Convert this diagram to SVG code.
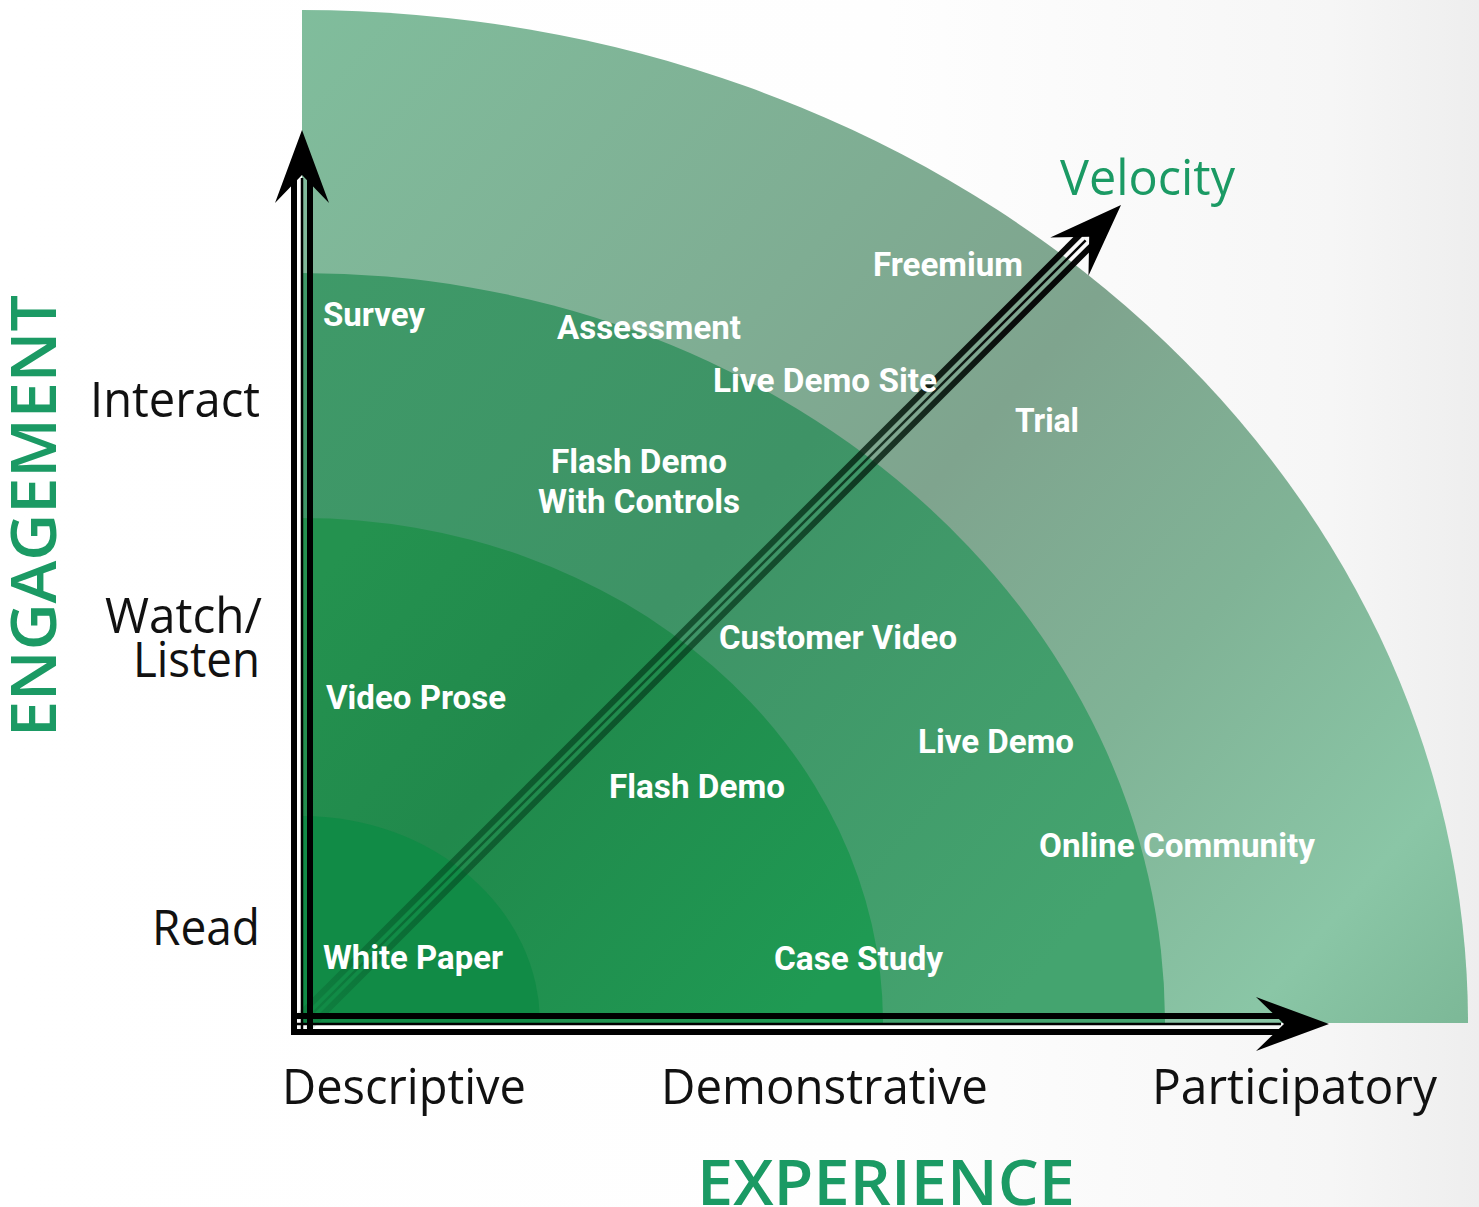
<svg xmlns="http://www.w3.org/2000/svg" width="1479" height="1207" viewBox="0 0 1479 1207">
  <style>
    .lbl { font-family: Roboto, "Liberation Sans", sans-serif; font-weight: 700; font-size: 33px; fill: #ffffff; }
    .axis { font-family: "Open Sans", "Noto Sans", sans-serif; font-weight: 400; font-size: 49px; fill: #111111; }
    .title { font-family: "Open Sans", "Noto Sans", sans-serif; font-weight: 600; font-size: 64px; fill: #1b9a64; }
    .vel { font-family: "Open Sans", "Noto Sans", sans-serif; font-weight: 400; font-size: 50px; fill: #1b9a64; }
    .ink { fill: #000000; }
  </style>
  <defs>
    <linearGradient id="bg" x1="0" y1="0" x2="1479" y2="0" gradientUnits="userSpaceOnUse">
      <stop offset="0" stop-color="#ffffff"/>
      <stop offset="0.6" stop-color="#fefefe"/>
      <stop offset="0.9" stop-color="#f6f6f6"/>
      <stop offset="1" stop-color="#eeeeee"/>
    </linearGradient>
    <linearGradient id="ring1" x1="302" y1="10" x2="1468" y2="1023" gradientUnits="userSpaceOnUse">
      <stop offset="0" stop-color="#80bd9c"/>
      <stop offset="0.35" stop-color="#7fad93"/>
      <stop offset="0.51" stop-color="#7fa48e"/>
      <stop offset="0.7" stop-color="#80b396"/>
      <stop offset="0.89" stop-color="#8ac6a6"/>
      <stop offset="1" stop-color="#7cb897"/>
    </linearGradient>
    <linearGradient id="ring2" x1="302" y1="10" x2="1468" y2="1023" gradientUnits="userSpaceOnUse">
      <stop offset="0" stop-color="#3f9c69"/>
      <stop offset="0.43" stop-color="#3e9366"/>
      <stop offset="0.77" stop-color="#44a46f"/>
      <stop offset="1" stop-color="#44a46f"/>
    </linearGradient>
    <linearGradient id="ring3" x1="302" y1="10" x2="1468" y2="1023" gradientUnits="userSpaceOnUse">
      <stop offset="0" stop-color="#24924f"/>
      <stop offset="0.25" stop-color="#24924f"/>
      <stop offset="0.42" stop-color="#21894c"/>
      <stop offset="0.67" stop-color="#1f9a53"/>
      <stop offset="1" stop-color="#1f9a53"/>
    </linearGradient>
    <!-- diagonal shaft fades out toward the origin -->
    <linearGradient id="diagInk" x1="-1158" y1="0" x2="0" y2="0" gradientUnits="userSpaceOnUse">
      <stop offset="0" stop-color="#003d1a" stop-opacity="0.12"/>
      <stop offset="0.2" stop-color="#003d1a" stop-opacity="0.55"/>
      <stop offset="0.6" stop-color="#002a12" stop-opacity="0.7"/>
      <stop offset="0.85" stop-color="#000000" stop-opacity="0.92"/>
      <stop offset="1" stop-color="#000000" stop-opacity="1"/>
    </linearGradient>
    <!-- concave arrowhead, tip at origin pointing along +x -->
    <path id="head" d="M0 0 L-73 -27 L-45 0 L-73 27 Z"/>
  </defs>

  <rect x="0" y="0" width="1479" height="1207" fill="url(#bg)"/>

  <!-- engagement/experience bands as nested quarter ellipses -->
  <g id="bands">
    <path id="band-participatory" d="M302 1023 V10 A1166 1013 0 0 1 1468 1023 Z" fill="url(#ring1)"/>
    <path id="band-interact" d="M302 1023 V273 A863 750 0 0 1 1165 1023 Z" fill="url(#ring2)"/>
    <path id="band-watch" d="M302 1023 V518 A581 505 0 0 1 883 1023 Z" fill="url(#ring3)"/>
    <path id="band-read" d="M302 1023 V816 A238 207 0 0 1 540 1023 Z" fill="#118b46"/>
  </g>

  <g id="connectors">
    <!-- velocity diagonal -->
    <g id="velocity-arrow" transform="translate(1121 205) rotate(-45)">
      <g fill="url(#diagInk)">
        <rect x="-1158" y="-11" width="1108" height="6"/>
        <rect x="-1158" y="-1.25" width="1108" height="2.5"/>
        <rect x="-1158" y="5" width="1108" height="6"/>
      </g>
      <use href="#head" class="ink"/>
    </g>
    <!-- engagement axis -->
    <g id="engagement-axis" transform="translate(302 130) rotate(-90)" class="ink">
      <rect x="-905" y="-11" width="857" height="6"/>
      <rect x="-905" y="-1.25" width="857" height="2.5"/>
      <rect x="-905" y="5" width="857" height="6"/>
      <use href="#head"/>
    </g>
    <!-- experience axis -->
    <g id="experience-axis" transform="translate(1329 1024)" class="ink">
      <rect x="-1038" y="-11" width="990" height="6"/>
      <rect x="-1038" y="-1.25" width="990" height="2.5"/>
      <rect x="-1038" y="5" width="990" height="6"/>
      <use href="#head"/>
    </g>
  </g>

  <!-- content types -->
  <g id="n-freemium"><text class="lbl" x="873" y="276" textLength="150" lengthAdjust="spacingAndGlyphs">Freemium</text></g>
  <g id="n-survey"><text class="lbl" x="323" y="326" textLength="102" lengthAdjust="spacingAndGlyphs">Survey</text></g>
  <g id="n-assessment"><text class="lbl" x="557" y="339" textLength="184" lengthAdjust="spacingAndGlyphs">Assessment</text></g>
  <g id="n-live-demo-site"><text class="lbl" x="713" y="392" textLength="224" lengthAdjust="spacingAndGlyphs">Live Demo Site</text></g>
  <g id="n-trial"><text class="lbl" x="1015" y="432" textLength="64" lengthAdjust="spacingAndGlyphs">Trial</text></g>
  <g id="n-flash-demo-controls">
    <text class="lbl" x="551" y="473" textLength="176" lengthAdjust="spacingAndGlyphs">Flash Demo</text>
    <text class="lbl" x="538" y="513" textLength="202" lengthAdjust="spacingAndGlyphs">With Controls</text>
  </g>
  <g id="n-customer-video"><text class="lbl" x="719" y="649" textLength="238" lengthAdjust="spacingAndGlyphs">Customer Video</text></g>
  <g id="n-video-prose"><text class="lbl" x="326" y="709" textLength="180" lengthAdjust="spacingAndGlyphs">Video Prose</text></g>
  <g id="n-live-demo"><text class="lbl" x="918" y="753" textLength="156" lengthAdjust="spacingAndGlyphs">Live Demo</text></g>
  <g id="n-flash-demo"><text class="lbl" x="609" y="798" textLength="176" lengthAdjust="spacingAndGlyphs">Flash Demo</text></g>
  <g id="n-online-community"><text class="lbl" x="1039" y="857" textLength="276" lengthAdjust="spacingAndGlyphs">Online Community</text></g>
  <g id="n-white-paper"><text class="lbl" x="323" y="969" textLength="180" lengthAdjust="spacingAndGlyphs">White Paper</text></g>
  <g id="n-case-study"><text class="lbl" x="774" y="970" textLength="169" lengthAdjust="spacingAndGlyphs">Case Study</text></g>

  <!-- axis scales -->
  <g id="engagement-scale">
    <text class="axis" x="90" y="417" textLength="170" lengthAdjust="spacingAndGlyphs">Interact</text>
    <text class="axis" x="105" y="633" textLength="157" lengthAdjust="spacingAndGlyphs">Watch/</text>
    <text class="axis" x="133" y="677" textLength="127" lengthAdjust="spacingAndGlyphs">Listen</text>
    <text class="axis" x="152" y="945" textLength="108" lengthAdjust="spacingAndGlyphs">Read</text>
  </g>
  <g id="experience-scale">
    <text class="axis" x="282" y="1104" textLength="244" lengthAdjust="spacingAndGlyphs">Descriptive</text>
    <text class="axis" x="661" y="1104" textLength="327" lengthAdjust="spacingAndGlyphs">Demonstrative</text>
    <text class="axis" x="1152" y="1104" textLength="285" lengthAdjust="spacingAndGlyphs">Participatory</text>
  </g>

  <g id="titles">
    <text class="title" transform="translate(56 737) rotate(-90)" x="0" y="0" textLength="442" lengthAdjust="spacingAndGlyphs">ENGAGEMENT</text>
    <text class="title" x="697" y="1205" textLength="378" lengthAdjust="spacingAndGlyphs">EXPERIENCE</text>
    <text class="vel" x="1060" y="195" textLength="175" lengthAdjust="spacingAndGlyphs">Velocity</text>
  </g>
</svg>
